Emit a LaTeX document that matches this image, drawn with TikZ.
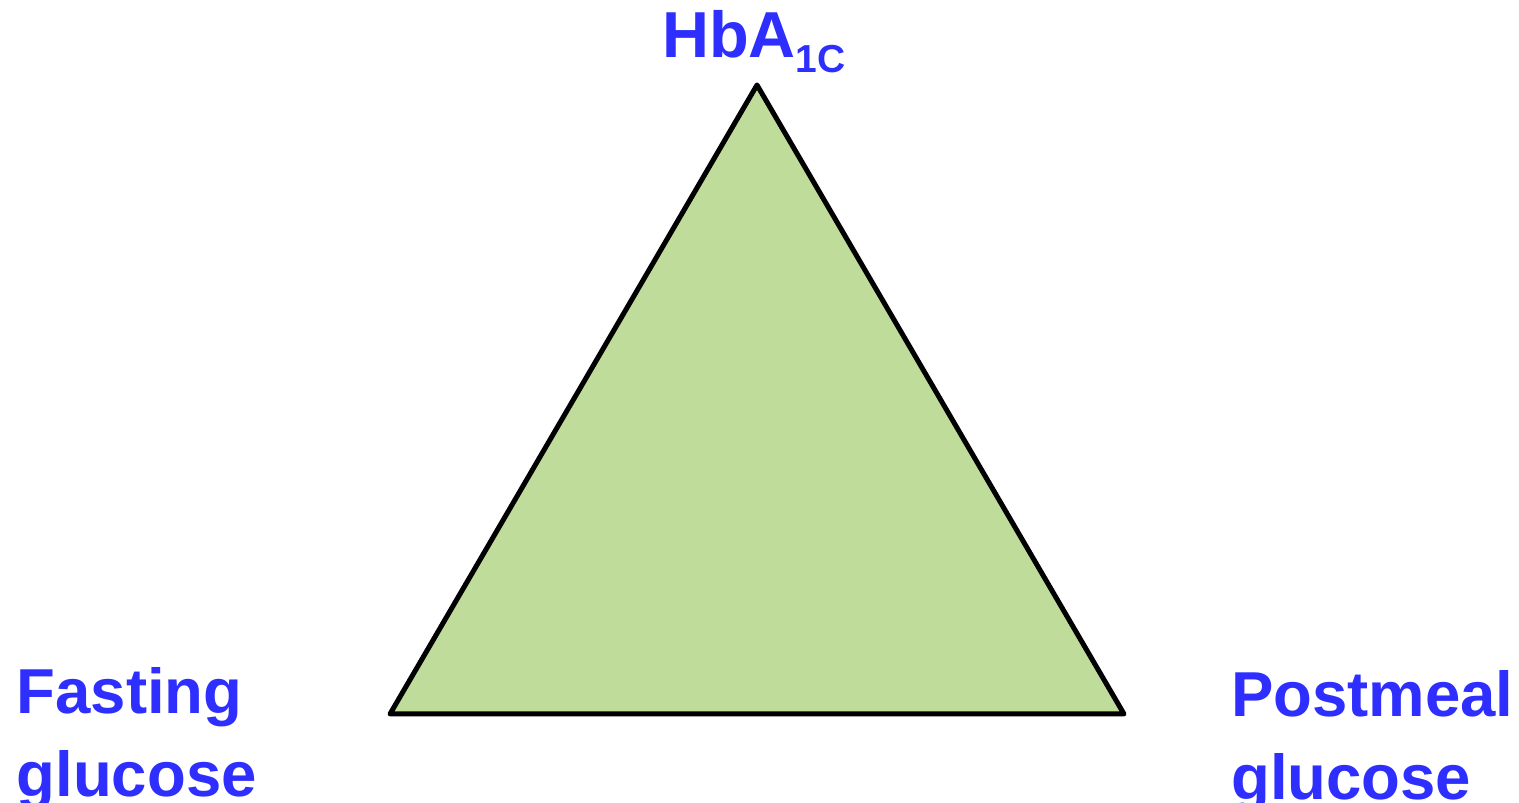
\documentclass[tikz,border=0pt]{standalone}
\usepackage{fontspec}
\setmainfont{Liberation Sans}
\usetikzlibrary{positioning}

\definecolor{labelblue}{RGB}{46,46,255}
\definecolor{trifill}{RGB}{191,220,154}

\begin{document}
\begin{tikzpicture}[
    x=1pt, y=1pt,
    label/.style={inner sep=0pt, anchor=base west, text=labelblue,
                  font=\fontsize{63.5}{63.5}\selectfont\bfseries},
    tri/.style={draw=black, line width=5pt, line join=round, fill=trifill}
]
\useasboundingbox (0,0) rectangle (1519,803);

% Triangle corners
\coordinate (hba) at (757,718);
\coordinate (fast) at (390,89);
\coordinate (post) at (1124,89);

\draw[tri] (hba) -- (fast) -- (post) -- cycle;

% Top label
\node[label, font=\fontsize{65}{65}\selectfont\bfseries] (hbalabel) at (662,745)
    {HbA\raisebox{-15pt}{\fontsize{39}{39}\selectfont 1C}};

% Bottom left label
\node[label] (fastlabel1) at (16.5,89) {Fasting};
\node[label] (fastlabel2) at (16.5,6) {glucose};

% Bottom right label
\node[label] (postlabel1) at (1231,86) {Postmeal};
\node[label] (postlabel2) at (1231,3) {glucose};

\end{tikzpicture}
\end{document}
